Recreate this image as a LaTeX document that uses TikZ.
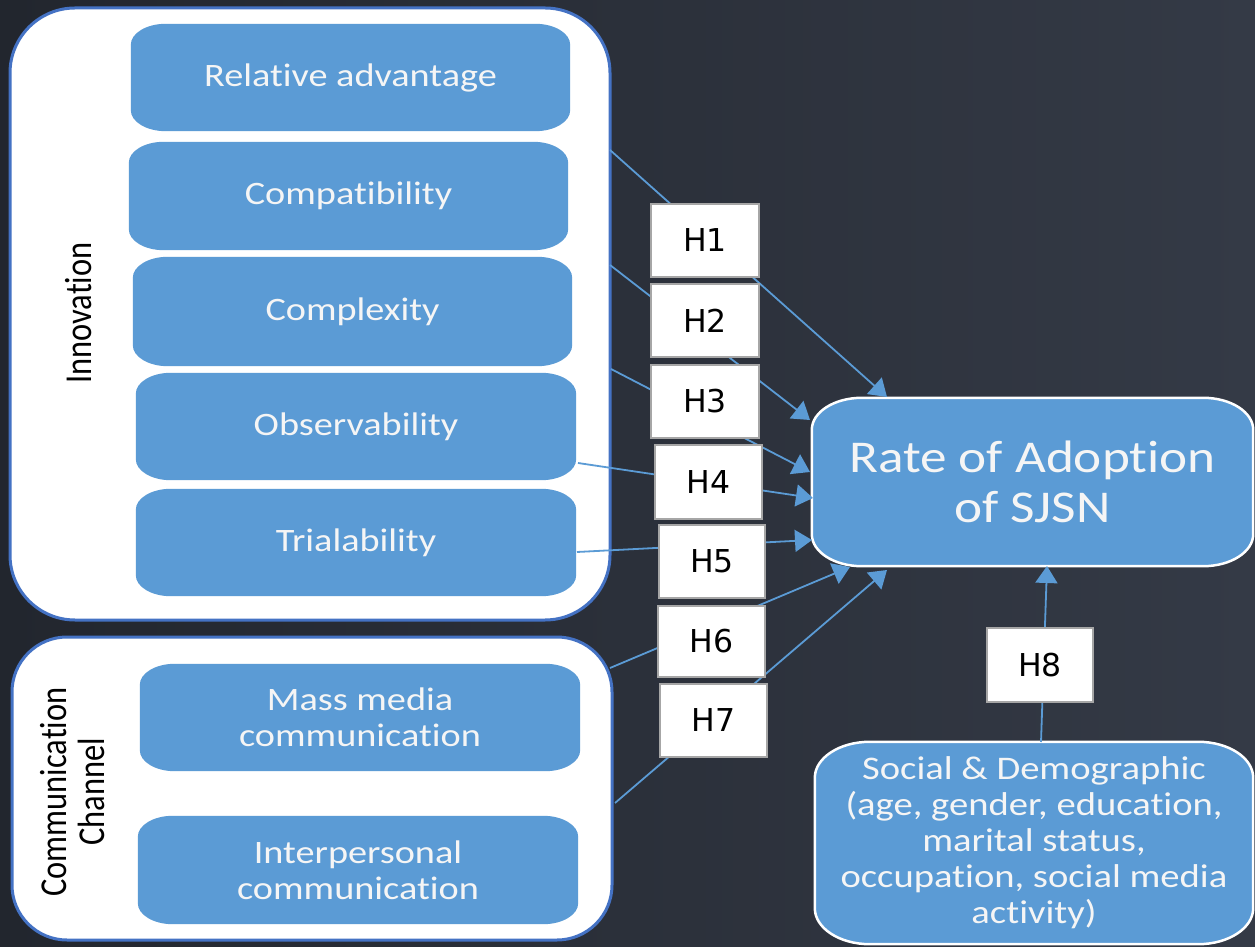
\documentclass[tikz,border=0pt]{standalone}
\usepackage{fontspec}
\setmainfont{Carlito}[FakeStretch=1.17,Ligatures={NoCommon,NoContextual}]
\newfontfamily\hfont{DejaVu Sans}
\newfontfamily\rfont{Carlito}[Ligatures={NoCommon,NoContextual}]
\usetikzlibrary{arrows.meta,calc}
\definecolor{bgL}{RGB}{34,38,46}
\definecolor{bgR}{RGB}{52,58,70}
\definecolor{ibl}{RGB}{91,155,213}
\definecolor{obl}{RGB}{68,114,196}
\definecolor{hgray}{RGB}{166,166,166}
\definecolor{txtw}{RGB}{245,245,245}
\pgfdeclarelayer{back}
\pgfdeclarelayer{mid}
\pgfsetlayers{back,mid,main}
\newcommand\erect[3]{%
 ($(#1.north west)+(#2,0)$) -- ($(#1.north east)+(-#2,0)$)
 arc[start angle=90,end angle=0,x radius=#2,y radius=#3]
 -- ($(#1.south east)+(0,#3)$)
 arc[start angle=0,end angle=-90,x radius=#2,y radius=#3]
 -- ($(#1.south west)+(#2,0)$)
 arc[start angle=270,end angle=180,x radius=#2,y radius=#3]
 -- ($(#1.north west)+(0,-#3)$)
 arc[start angle=180,end angle=90,x radius=#2,y radius=#3] -- cycle}
\begin{document}
\begin{tikzpicture}[x=1pt,y=1pt,
 outer/.style={draw=obl,line width=3pt,fill=white,rounded corners=#1,inner sep=0pt},
 itext/.style={inner sep=0pt,align=center,text=txtw,font=\fontsize{32.7}{36}\selectfont},
 hbox/.style={draw=hgray,line width=2.5pt,fill=white,inner sep=0pt,font=\hfont\fontsize{31.5}{36}\selectfont,minimum width=106pt,minimum height=73pt},
 conn/.style={draw=ibl,line width=1.8pt,-{Triangle[length=17pt,width=22pt]}},
 rlabel/.style={inner sep=0pt,align=center,rotate=90,font=\rfont\fontsize{32.5}{37}\selectfont}]
\useasboundingbox (0,0) rectangle (1255,946);
\begin{pgfonlayer}{back}
\shade[left color=bgL,right color=bgR] (0,0) rectangle (1255,946);
\node[outer=65pt,minimum width=600pt,minimum height=612pt] (inno) at (310,632) {};
\node[outer=55pt,minimum width=600pt,minimum height=303pt] (comm) at (312,157.5) {};
\end{pgfonlayer}

% inner boxes (text)
\node[itext,minimum width=439pt,minimum height=107pt] (ra) at (350.5,868.5) {Relative advantage};
\node[itext,minimum width=439pt,minimum height=108pt] (cp) at (348.5,750) {Compatibility};
\node[itext,minimum width=439pt,minimum height=109pt] (cx) at (352.5,634.5) {Complexity};
\node[itext,minimum width=440pt,minimum height=107pt] (ob) at (356,519.5) {Observability};
\node[itext,minimum width=440pt,minimum height=107pt] (tr) at (356,403.5) {Trialability};
\node[itext,minimum width=440pt,minimum height=107pt] (mm) at (360,228.5) {Mass media\\communication};
\node[itext,minimum width=440pt,minimum height=108pt] (ip) at (358,76) {Interpersonal\\communication};
\node[itext,minimum width=441pt,minimum height=168pt,font=\fontsize{45.5}{50}\selectfont] (rate) at (1032.5,464) {Rate of Adoption\\of SJSN};
\node[itext,minimum width=438pt,minimum height=202pt,font=\fontsize{33}{36}\selectfont] (soc) at (1034,103) {Social \& Demographic\\(age, gender, education,\\marital status,\\occupation, social media\\activity)};

\node[rlabel] (innol) at (79,633) {\scalebox{1}[1.17]{Innovation}};
\node[rlabel] (comml) at (77,154) {\scalebox{1}[1.17]{\begin{tabular}{@{}c@{}}Communication\\[-5pt]Channel\end{tabular}}};

\begin{pgfonlayer}{mid}
\foreach \n in {ra,cp,cx,ob,tr,mm,ip}{\fill[ibl] \erect{\n}{35}{21};}
\filldraw[fill=ibl,draw=white,line width=2.5pt] \erect{rate}{50}{32};
\filldraw[fill=ibl,draw=white,line width=2.5pt] \erect{soc}{55}{36};
\end{pgfonlayer}

% connector endpoints
\coordinate (s1) at (610,796); \coordinate (t1) at (887,549);
\coordinate (s2) at (610,681); \coordinate (t2) at (810,526);
\coordinate (s3) at (611,577); \coordinate (t3) at (810,474);
\coordinate (s4) at (578,483); \coordinate (t4) at (813,448);
\coordinate (s5) at (577,394); \coordinate (t5) at (812,406);
\coordinate (s6) at (610,278); \coordinate (t6) at (850,379);
\coordinate (s7) at (615,143); \coordinate (t7) at (887,376);
\coordinate (s8) at (1041,204); \coordinate (t8) at (1047,380);
\foreach \i in {1,...,8}{\draw[conn] (s\i) -- (t\i);}

\node[hbox,minimum width=108pt] (h1) at (705,705.5) {H1};
\node[hbox,minimum width=108pt] (h2) at (705,625.5) {H2};
\node[hbox,minimum width=108pt] (h3) at (705,544.5) {H3};
\node[hbox,minimum width=107pt,minimum height=74pt] (h4) at (708.5,464) {H4};
\node[hbox] (h5) at (712,384.5) {H5};
\node[hbox,minimum width=107pt,minimum height=71pt] (h6) at (711.5,304.5) {H6};
\node[hbox,minimum width=107pt] (h7) at (713.5,225.5) {H7};
\node[hbox,minimum height=74pt] (h8) at (1040,281) {H8};
\end{tikzpicture}
\end{document}
